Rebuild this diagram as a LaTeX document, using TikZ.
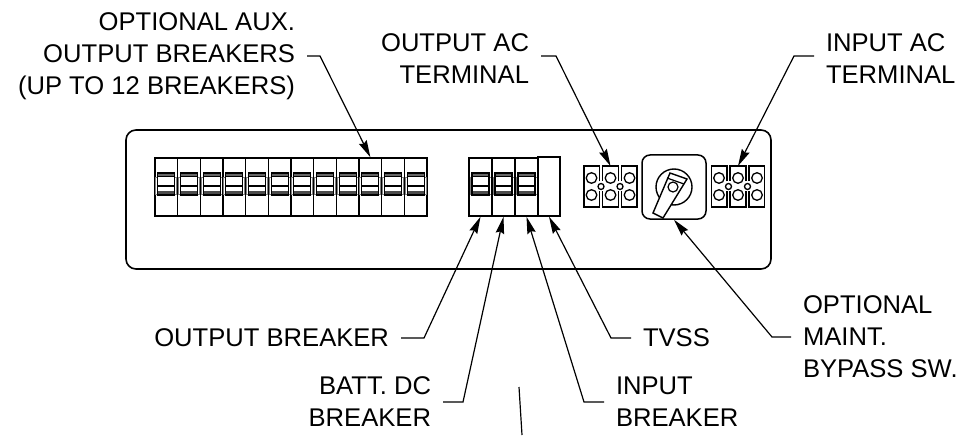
\documentclass[tikz,border=0pt]{standalone}
\usepackage{fontspec}
\setmainfont{Liberation Sans}
\usetikzlibrary{arrows.meta}
\usetikzlibrary{calc}

\begin{document}
\begin{tikzpicture}[x=1pt,y=-1pt,>={Stealth[length=17pt,width=8.5pt,inset=2pt]}]
	\tikzset{breaker/.style = {shape=rectangle, draw, line width=1.5pt, minimum width=22.67pt, minimum height=58pt, inner sep=0pt}}
	\tikzset{tvssbox/.style = {shape=rectangle, draw, line width=1.5pt, minimum width=22pt, minimum height=59pt, inner sep=0pt}}
	\tikzset{termbox/.style = {minimum width=53pt, minimum height=41pt, inner sep=0pt, outer sep=0pt}}
	\tikzset{tag/.style = {inner sep=0pt, outer sep=12pt, font=\fontsize{25.6}{32}\selectfont}}
	\tikzset{leader/.style = {->, line width=1.2pt}}
	\tikzset{toggle/.pic = {
		\draw[gray, line width=1pt] (-10.5,-9) rectangle (10.5,8);
		\fill[white] (-8.5,-14) rectangle (8.5,8);
		\fill[gray!80!black] (-8.5,-14) rectangle (8.5,-10);
		\fill[gray!60!black] (-8.5,4) rectangle (8.5,8);
		\draw[line width=1.2pt] (-8.5,-14) rectangle (8.5,8);
		\draw[line width=1pt] (-8.5,-10) -- (8.5,-10);
		\draw[line width=1.2pt] (-8.5,-1) -- (8.5,-1);
	}}
	\tikzset{terminal/.pic = {
		\draw[line width=1.3pt] (-11,-5) -- (-11,-20.5) -- (-26.5,-20.5) -- (-26.5,20.5) -- (-11,20.5) -- (-11,5)
			(-8,5) -- (-8,20.5) -- (8,20.5) -- (8,5)
			(11,5) -- (11,20.5) -- (26.5,20.5) -- (26.5,-20.5) -- (11,-20.5) -- (11,-5)
			(8,-5) -- (8,-20.5) -- (-8,-20.5) -- (-8,-5);
		\foreach \px in {-19,0,19} {
			\draw[line width=1.3pt, fill=white] (\px,-8.5) circle (5.3);
			\draw[line width=1.3pt, fill=white] (\px,8.5) circle (5.3);
		}
		\foreach \px in {-9.5,9.5} {
			\draw[line width=1.3pt, fill=white] (\px,0) circle (3);
		}
	}}

	% panel
	\draw[line width=1.6pt, rounded corners=10pt] (126,130) rectangle (771,269);

	% aux breakers
	\foreach \i in {1,...,12} {
		\node[breaker] (aux\i) at ({155+22.67*(\i-0.5)},187) {};
		\path (aux\i.center) pic {toggle};
	}

	% main breakers
	\foreach \i in {1,2,3} {
		\node[breaker] (main\i) at ({469+23*(\i-0.5)},187) {};
		\path (main\i.center) pic {toggle};
	}
	\node[tvssbox] (TVSS) at (549,186.5) {};

	% terminals
	\node[termbox] (TERMOUT) at (610.5,186.5) {};
	\path (TERMOUT.center) pic {terminal};
	\node[termbox] (TERMIN) at (738,186.5) {};
	\path (TERMIN.center) pic {terminal};

	% bypass switch
	\node[draw, line width=1.5pt, rounded corners=8pt, minimum size=64pt, inner sep=0pt] (BYPASS) at (674,187) {};
	\draw[line width=1.4pt] (674,187) circle (18);
	\draw[line width=1.4pt, fill=white] (670,173) -- (687,179) -- (663,218) -- (653,213) -- cycle;
	\draw[line width=1.2pt] (667,178) -- (684,184);
	\draw[line width=1.2pt] (673,187) circle (5);

	% labels
	\node[tag, anchor=east, align=right] (AUX) at (307,56) {OPTIONAL AUX.\\OUTPUT BREAKERS\\(UP TO 12 BREAKERS)};
	\node[tag, anchor=east, align=right] (ACOUT) at (541,59) {OUTPUT AC\\TERMINAL};
	\node[tag, anchor=west, align=left] (ACIN) at (814,59) {INPUT AC\\TERMINAL};
	\node[tag, anchor=east] (BRKOUT) at (401,338) {OUTPUT BREAKER};
	\node[tag, anchor=east, align=right] (BATT) at (443,402) {BATT. DC\\BREAKER};
	\node[tag, anchor=west, align=left] (BRKIN) at (604,402) {INPUT\\BREAKER};
	\node[tag, anchor=west] (LBLTVSS) at (631,338) {TVSS};
	\node[tag, anchor=west, align=left] (MAINT) at (791,337) {OPTIONAL\\MAINT.\\BYPASS SW.};

	% leaders
	\coordinate (elbowaux) at (320,56);
	\coordinate (elbowacout) at (556,56);
	\coordinate (elbowacin) at (794,56);
	\coordinate (elbowbrkout) at (424,338);
	\coordinate (elbowbatt) at (463,402);
	\coordinate (elbowbrkin) at (584,402);
	\coordinate (elbowtvss) at (611,338);
	\coordinate (elbowmaint) at (772,337);
	\draw[leader] (AUX.east |- elbowaux) -- (elbowaux) -- (aux10.north);
	\draw[leader] (ACOUT.east |- elbowacout) -- (elbowacout) -- (TERMOUT.north);
	\draw[leader] (ACIN.west |- elbowacin) -- (elbowacin) -- (TERMIN.north);
	\draw[leader] (BRKOUT.east |- elbowbrkout) -- (elbowbrkout) -- (main1.south);
	\draw[leader] (BATT.east |- elbowbatt) -- (elbowbatt) -- (main2.south);
	\draw[leader] (BRKIN.west |- elbowbrkin) -- (elbowbrkin) -- (main3.south);
	\draw[leader] (LBLTVSS.west |- elbowtvss) -- (elbowtvss) -- (TVSS.south);
	\draw[leader] (MAINT.west |- elbowmaint) -- (elbowmaint) -- (BYPASS.south);

	% line at the bottom
	\coordinate (straytop) at (519,387);
	\coordinate (straybot) at (522,435);
	\draw[line width=1.2pt] (straytop) -- (straybot);

	\useasboundingbox (0,0) rectangle (963,435);
\end{tikzpicture}
\end{document}
